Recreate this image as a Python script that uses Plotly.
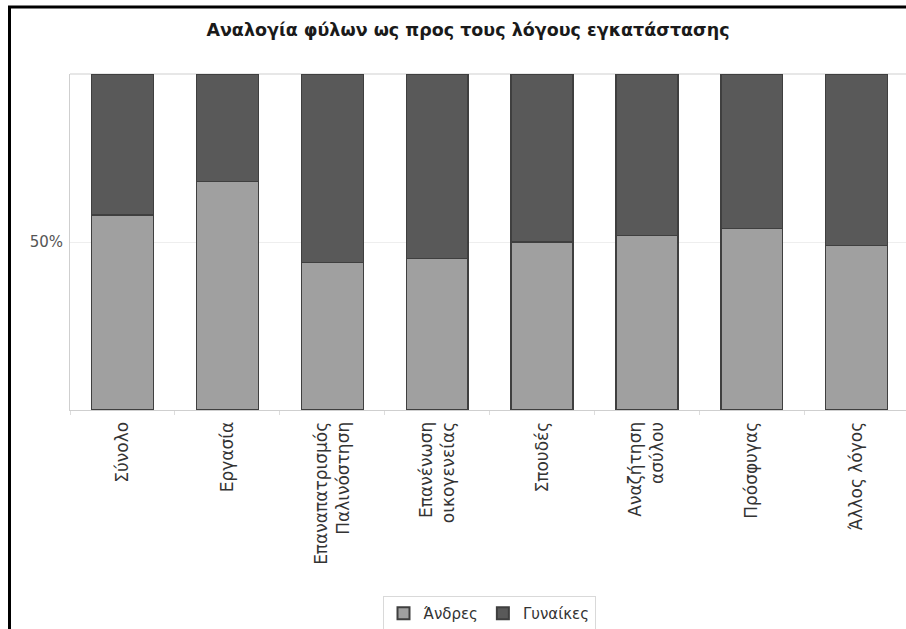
import plotly.graph_objects as go

categories = ["Σύνολο", "Εργασία", "Επαναπατρισμός<br>Παλινόστηση", "Επανένωση<br>οικογενείας",
              "Σπουδές", "Αναζήτηση<br>ασύλου", "Πρόσφυγας", "Άλλος λόγος"]
men_pct = [58, 68, 44, 45, 50, 52, 54, 49]
women_pct = [42, 32, 56, 55, 50, 48, 46, 51]
y_tick_vals = [0, 50, 100]
y_tick_text = ["", "50%", ""]

FONT = "DejaVu Sans, Arial, sans-serif"

W, H = 906, 629
ML, MR, MT, MB = 70, 0, 74, 219
PW = W - ML - MR
PH = H - MT - MB

def px_x(px):
    return (px - ML) / PW

def px_y(py):
    return (H - MB - py) / PH

fig = go.Figure()
fig.add_trace(go.Bar(x=categories, y=men_pct, name="Άνδρες",
                     marker=dict(color="#a0a0a0", line=dict(color="#3f3f3f", width=1.3)),
                     width=0.59))
fig.add_trace(go.Bar(x=categories, y=women_pct, name="Γυναίκες",
                     marker=dict(color="#595959", line=dict(color="#3f3f3f", width=1.3)),
                     width=0.59))

fig.update_layout(
    width=W, height=H,
    barmode="stack",
    margin=dict(l=ML, r=MR, t=MT, b=MB, autoexpand=False),
    paper_bgcolor="white", plot_bgcolor="white",
    font=dict(family=FONT, color="#333333"),
    title=dict(text="<b>Αναλογία φύλων ως προς τους λόγους εγκατάστασης</b>",
               x=468 / W, xref="container", xanchor="center",
               y=1 - 30 / H, yref="container", yanchor="middle",
               font=dict(family=FONT, size=17.5, color="#1a1a1a")),
    showlegend=True,
    legend=dict(orientation="h", x=px_x(489), xanchor="center", xref="paper",
                y=px_y(596), yanchor="top", yref="paper",
                bordercolor="#d9d9d9", borderwidth=1,
                font=dict(family=FONT, size=15, color="#333333"),
                itemsizing="constant", traceorder="normal",
                tracegroupgap=0, itemwidth=30),
    xaxis=dict(type="category", range=[-0.5, 7.47],
               tickangle=-90, tickfont=dict(family=FONT, size=17, color="#333333"),
               showline=True, linecolor="#cfcfcf", linewidth=1,
               ticks="outside", tickson="boundaries", ticklen=4, tickcolor="#dddddd",
               ticklabelstandoff=4,
               showgrid=False, zeroline=False, fixedrange=True),
    yaxis=dict(range=[0, 100], tickvals=y_tick_vals, ticktext=y_tick_text,
               tickfont=dict(family=FONT, size=15, color="#555555"),
               showline=True, linecolor="#cfcfcf", linewidth=1,
               showgrid=True, gridcolor="#eeeeee", gridwidth=1,
               zeroline=False, ticks="", ticklabelstandoff=3, fixedrange=True),
    shapes=[
        dict(type="line", xref="paper", yref="paper", x0=0, x1=1, y0=1, y1=1,
             line=dict(color="#cfcfcf", width=1), layer="below"),
        dict(type="line", xref="paper", yref="paper", x0=px_x(9.5), x1=px_x(9.5),
             y0=px_y(640), y1=px_y(6), line=dict(color="black", width=3)),
        dict(type="line", xref="paper", yref="paper", x0=px_x(8), x1=px_x(920),
             y0=px_y(7), y1=px_y(7), line=dict(color="black", width=3)),
    ],
)

fig.write_html("out.html",
               config={"displayModeBar": False, "staticPlot": True},
               post_script="document.body.style.margin='0';document.body.style.overflow='hidden';")
